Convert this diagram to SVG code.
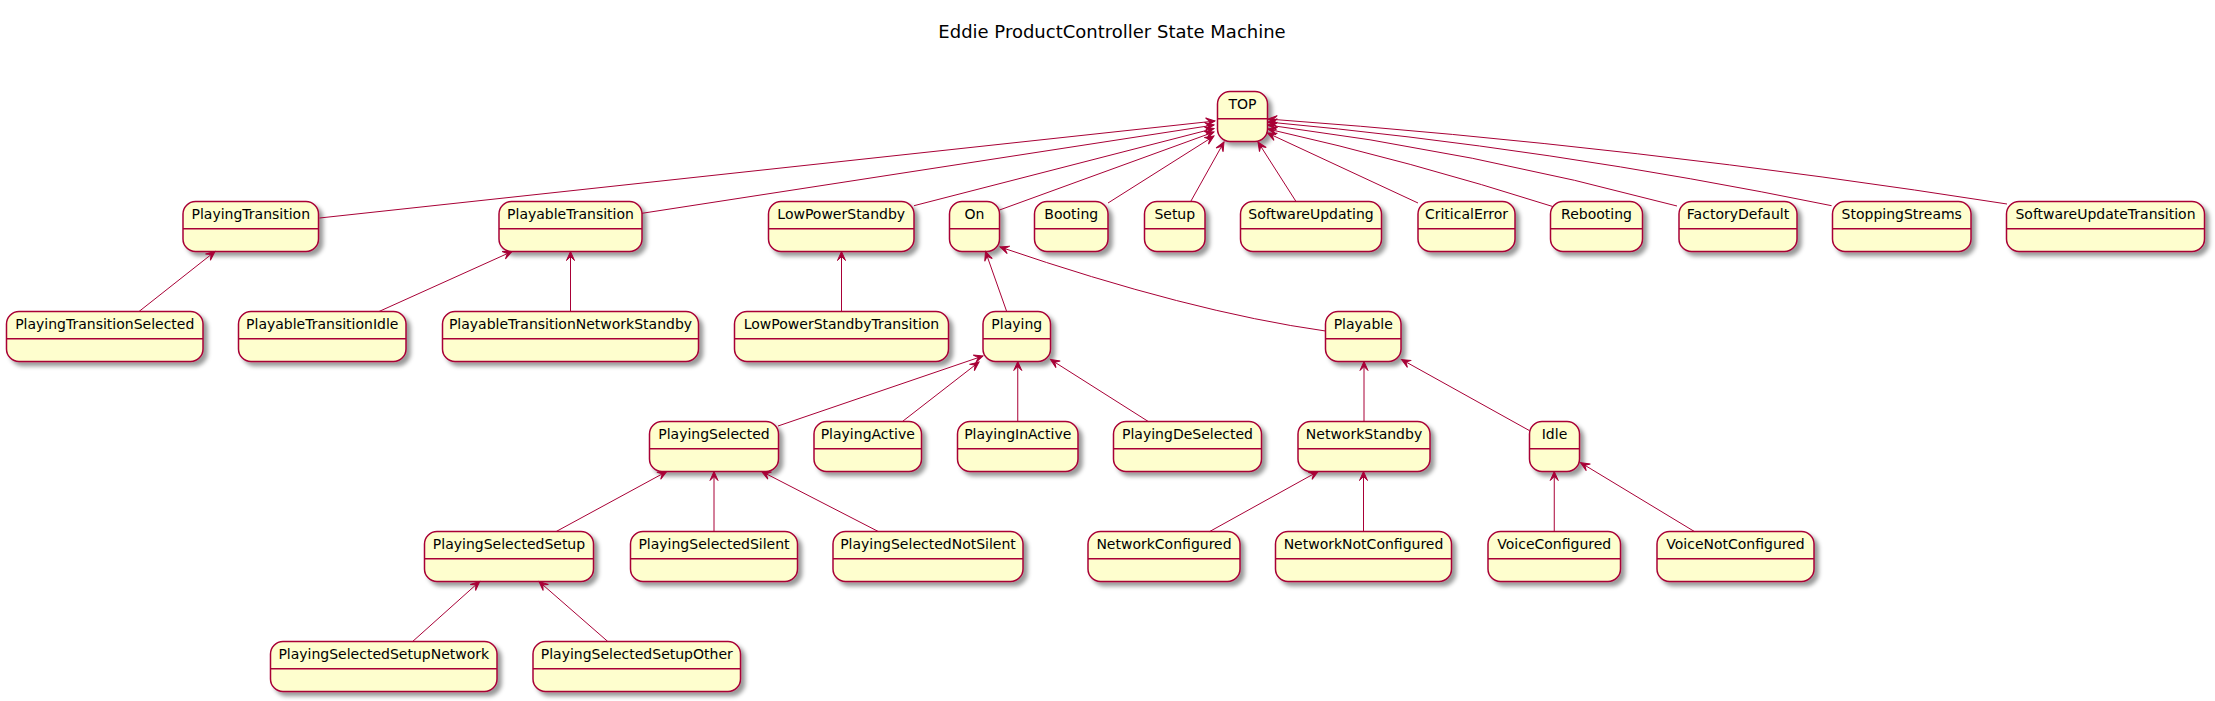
<svg xmlns="http://www.w3.org/2000/svg" width="2215" height="701" viewBox="0 0 2215 701">
<style>
.box{fill:#FEFECE;stroke:#A80036;stroke-width:1.5;filter:url(#sh)}
.div{stroke:#A80036;stroke-width:1.5}
.lbl{font-family:'DejaVu Sans','Liberation Sans',sans-serif;font-size:14px;text-anchor:middle;fill:#000000}
.ttl{font-family:'DejaVu Sans','Liberation Sans',sans-serif;font-size:18px;text-anchor:middle;fill:#000000}
.e{fill:none;stroke:#A80036;stroke-width:1;marker-end:url(#arr)}
</style>
<defs>
<filter id="sh" x="-1" y="-1" width="300%" height="300%">
<feGaussianBlur result="b1" stdDeviation="2"/>
<feColorMatrix type="matrix" in="b1" result="b2" values="0 0 0 0 0 0 0 0 0 0 0 0 0 0 0 0 0 0 .4 0"/>
<feOffset result="b3" in="b2" dx="4" dy="4"/>
<feBlend in="SourceGraphic" in2="b3" mode="normal"/>
</filter>
<marker id="arr" viewBox="-10 -5 11 10" refX="0" refY="0" markerWidth="11" markerHeight="10" markerUnits="userSpaceOnUse" orient="auto" overflow="visible">
<path d="M0,0 L-9,-4 L-5,0 L-9,4 Z" fill="#A80036" stroke="#A80036" stroke-width="1"/>
</marker>
</defs>
<rect width="2215" height="701" fill="#FFFFFF"/>
<text class="ttl" x="1112" y="38">Eddie ProductController State Machine</text>
<g id="nodes">
<g id="TOP"><rect class="box" x="1217.5" y="91.5" width="50" height="50" rx="12.5"/><line class="div" x1="1217.5" y1="118.8" x2="1267.5" y2="118.8"/><text class="lbl" x="1242.5" y="109.4">TOP</text></g>
<g id="PlayingTransition"><rect class="box" x="183" y="201.5" width="135.5" height="50" rx="12.5"/><line class="div" x1="183" y1="228.8" x2="318.5" y2="228.8"/><text class="lbl" x="250.75" y="219.4">PlayingTransition</text></g>
<g id="PlayableTransition"><rect class="box" x="499" y="201.5" width="143" height="50" rx="12.5"/><line class="div" x1="499" y1="228.8" x2="642" y2="228.8"/><text class="lbl" x="570.5" y="219.4">PlayableTransition</text></g>
<g id="LowPowerStandby"><rect class="box" x="768.5" y="201.5" width="145.5" height="50" rx="12.5"/><line class="div" x1="768.5" y1="228.8" x2="914" y2="228.8"/><text class="lbl" x="841.25" y="219.4">LowPowerStandby</text></g>
<g id="On"><rect class="box" x="949.5" y="201.5" width="50" height="50" rx="12.5"/><line class="div" x1="949.5" y1="228.8" x2="999.5" y2="228.8"/><text class="lbl" x="974.5" y="219.4">On</text></g>
<g id="Booting"><rect class="box" x="1034.5" y="201.5" width="73.5" height="50" rx="12.5"/><line class="div" x1="1034.5" y1="228.8" x2="1108" y2="228.8"/><text class="lbl" x="1071.25" y="219.4">Booting</text></g>
<g id="Setup"><rect class="box" x="1144.5" y="201.5" width="60.5" height="50" rx="12.5"/><line class="div" x1="1144.5" y1="228.8" x2="1205" y2="228.8"/><text class="lbl" x="1174.75" y="219.4">Setup</text></g>
<g id="SoftwareUpdating"><rect class="box" x="1240.5" y="201.5" width="141" height="50" rx="12.5"/><line class="div" x1="1240.5" y1="228.8" x2="1381.5" y2="228.8"/><text class="lbl" x="1311" y="219.4">SoftwareUpdating</text></g>
<g id="CriticalError"><rect class="box" x="1418" y="201.5" width="97" height="50" rx="12.5"/><line class="div" x1="1418" y1="228.8" x2="1515" y2="228.8"/><text class="lbl" x="1466.5" y="219.4">CriticalError</text></g>
<g id="Rebooting"><rect class="box" x="1550.5" y="201.5" width="92" height="50" rx="12.5"/><line class="div" x1="1550.5" y1="228.8" x2="1642.5" y2="228.8"/><text class="lbl" x="1596.5" y="219.4">Rebooting</text></g>
<g id="FactoryDefault"><rect class="box" x="1679" y="201.5" width="118" height="50" rx="12.5"/><line class="div" x1="1679" y1="228.8" x2="1797" y2="228.8"/><text class="lbl" x="1738" y="219.4">FactoryDefault</text></g>
<g id="StoppingStreams"><rect class="box" x="1832.5" y="201.5" width="138.5" height="50" rx="12.5"/><line class="div" x1="1832.5" y1="228.8" x2="1971" y2="228.8"/><text class="lbl" x="1901.75" y="219.4">StoppingStreams</text></g>
<g id="SoftwareUpdateTransition"><rect class="box" x="2006.5" y="201.5" width="198" height="50" rx="12.5"/><line class="div" x1="2006.5" y1="228.8" x2="2204.5" y2="228.8"/><text class="lbl" x="2105.5" y="219.4">SoftwareUpdateTransition</text></g>
<g id="PlayingTransitionSelected"><rect class="box" x="6.5" y="311.5" width="196.5" height="50" rx="12.5"/><line class="div" x1="6.5" y1="338.8" x2="203" y2="338.8"/><text class="lbl" x="104.75" y="329.4">PlayingTransitionSelected</text></g>
<g id="PlayableTransitionIdle"><rect class="box" x="238.5" y="311.5" width="167.5" height="50" rx="12.5"/><line class="div" x1="238.5" y1="338.8" x2="406" y2="338.8"/><text class="lbl" x="322.25" y="329.4">PlayableTransitionIdle</text></g>
<g id="PlayableTransitionNetworkStandby"><rect class="box" x="442.5" y="311.5" width="256" height="50" rx="12.5"/><line class="div" x1="442.5" y1="338.8" x2="698.5" y2="338.8"/><text class="lbl" x="570.5" y="329.4">PlayableTransitionNetworkStandby</text></g>
<g id="LowPowerStandbyTransition"><rect class="box" x="734.5" y="311.5" width="214" height="50" rx="12.5"/><line class="div" x1="734.5" y1="338.8" x2="948.5" y2="338.8"/><text class="lbl" x="841.5" y="329.4">LowPowerStandbyTransition</text></g>
<g id="Playing"><rect class="box" x="983" y="311.5" width="67.5" height="50" rx="12.5"/><line class="div" x1="983" y1="338.8" x2="1050.5" y2="338.8"/><text class="lbl" x="1016.75" y="329.4">Playing</text></g>
<g id="Playable"><rect class="box" x="1325.5" y="311.5" width="75.5" height="50" rx="12.5"/><line class="div" x1="1325.5" y1="338.8" x2="1401" y2="338.8"/><text class="lbl" x="1363.25" y="329.4">Playable</text></g>
<g id="PlayingSelected"><rect class="box" x="649.5" y="421.5" width="129" height="50" rx="12.5"/><line class="div" x1="649.5" y1="448.8" x2="778.5" y2="448.8"/><text class="lbl" x="714" y="439.4">PlayingSelected</text></g>
<g id="PlayingActive"><rect class="box" x="814" y="421.5" width="107.5" height="50" rx="12.5"/><line class="div" x1="814" y1="448.8" x2="921.5" y2="448.8"/><text class="lbl" x="867.75" y="439.4">PlayingActive</text></g>
<g id="PlayingInActive"><rect class="box" x="957.5" y="421.5" width="120.5" height="50" rx="12.5"/><line class="div" x1="957.5" y1="448.8" x2="1078" y2="448.8"/><text class="lbl" x="1017.75" y="439.4">PlayingInActive</text></g>
<g id="PlayingDeSelected"><rect class="box" x="1113.5" y="421.5" width="148" height="50" rx="12.5"/><line class="div" x1="1113.5" y1="448.8" x2="1261.5" y2="448.8"/><text class="lbl" x="1187.5" y="439.4">PlayingDeSelected</text></g>
<g id="NetworkStandby"><rect class="box" x="1298" y="421.5" width="132" height="50" rx="12.5"/><line class="div" x1="1298" y1="448.8" x2="1430" y2="448.8"/><text class="lbl" x="1364" y="439.4">NetworkStandby</text></g>
<g id="Idle"><rect class="box" x="1529.5" y="421.5" width="50" height="50" rx="12.5"/><line class="div" x1="1529.5" y1="448.8" x2="1579.5" y2="448.8"/><text class="lbl" x="1554.5" y="439.4">Idle</text></g>
<g id="PlayingSelectedSetup"><rect class="box" x="424.5" y="531.5" width="169" height="50" rx="12.5"/><line class="div" x1="424.5" y1="558.8" x2="593.5" y2="558.8"/><text class="lbl" x="509" y="549.4">PlayingSelectedSetup</text></g>
<g id="PlayingSelectedSilent"><rect class="box" x="630.5" y="531.5" width="167" height="50" rx="12.5"/><line class="div" x1="630.5" y1="558.8" x2="797.5" y2="558.8"/><text class="lbl" x="714" y="549.4">PlayingSelectedSilent</text></g>
<g id="PlayingSelectedNotSilent"><rect class="box" x="833" y="531.5" width="190" height="50" rx="12.5"/><line class="div" x1="833" y1="558.8" x2="1023" y2="558.8"/><text class="lbl" x="928" y="549.4">PlayingSelectedNotSilent</text></g>
<g id="NetworkConfigured"><rect class="box" x="1088" y="531.5" width="152" height="50" rx="12.5"/><line class="div" x1="1088" y1="558.8" x2="1240" y2="558.8"/><text class="lbl" x="1164" y="549.4">NetworkConfigured</text></g>
<g id="NetworkNotConfigured"><rect class="box" x="1275.5" y="531.5" width="176" height="50" rx="12.5"/><line class="div" x1="1275.5" y1="558.8" x2="1451.5" y2="558.8"/><text class="lbl" x="1363.5" y="549.4">NetworkNotConfigured</text></g>
<g id="VoiceConfigured"><rect class="box" x="1488" y="531.5" width="132.5" height="50" rx="12.5"/><line class="div" x1="1488" y1="558.8" x2="1620.5" y2="558.8"/><text class="lbl" x="1554.25" y="549.4">VoiceConfigured</text></g>
<g id="VoiceNotConfigured"><rect class="box" x="1657" y="531.5" width="157" height="50" rx="12.5"/><line class="div" x1="1657" y1="558.8" x2="1814" y2="558.8"/><text class="lbl" x="1735.5" y="549.4">VoiceNotConfigured</text></g>
<g id="PlayingSelectedSetupNetwork"><rect class="box" x="270.5" y="641.5" width="226.5" height="50" rx="12.5"/><line class="div" x1="270.5" y1="668.8" x2="497" y2="668.8"/><text class="lbl" x="383.75" y="659.4">PlayingSelectedSetupNetwork</text></g>
<g id="PlayingSelectedSetupOther"><rect class="box" x="533" y="641.5" width="207.5" height="50" rx="12.5"/><line class="div" x1="533" y1="668.8" x2="740.5" y2="668.8"/><text class="lbl" x="636.75" y="659.4">PlayingSelectedSetupOther</text></g>
</g>
<g id="connectors">
<path class="e" d="M319.5,218 L1215,121"/>
<path class="e" d="M642,213.3 L1214,125"/>
<path class="e" d="M914,205.7 L1214,128.5"/>
<path class="e" d="M999.5,210 L1214,132"/>
<path class="e" d="M1108,203 L1214,136"/>
<path class="e" d="M1190.7,201.5 L1224,142"/>
<path class="e" d="M1296,201.5 L1258,142"/>
<path class="e" d="M1418,203 L1267.5,133"/>
<path class="e" d="M1552.7,206.5 Q1410,161 1268,129"/>
<path class="e" d="M1677,206 Q1472,151 1268,125"/>
<path class="e" d="M1831.6,205.7 Q1550,148 1268,122"/>
<path class="e" d="M2007,204 Q1637,146 1268,119"/>
<path class="e" d="M139,311.5 L215,251.5"/>
<path class="e" d="M379,311.5 L512,251.5"/>
<path class="e" d="M570.5,311.5 L570.5,251.5"/>
<path class="e" d="M841.5,311.5 L841.5,251.5"/>
<path class="e" d="M1006.7,311.5 L985.5,251.5"/>
<path class="e" d="M1325.5,331 Q1190,312 1000,247"/>
<path class="e" d="M778,426 L983,356"/>
<path class="e" d="M902.4,421.5 L979,362"/>
<path class="e" d="M1017.75,421.5 L1017.75,361.5"/>
<path class="e" d="M1148.3,421.5 L1050.5,359.5"/>
<path class="e" d="M1364,421.5 L1364,361.5"/>
<path class="e" d="M1529.6,430.7 L1401.5,359.5"/>
<path class="e" d="M556.2,531.5 L666.7,471.5"/>
<path class="e" d="M714,531.5 L714,471.5"/>
<path class="e" d="M878.3,531.5 L761.7,471.5"/>
<path class="e" d="M1209.7,531.5 L1318,471.5"/>
<path class="e" d="M1363.5,531.5 L1363.5,471.5"/>
<path class="e" d="M1554.25,531.5 L1554.25,471.5"/>
<path class="e" d="M1694.4,531.5 L1580.6,462.7"/>
<path class="e" d="M412.6,641.5 L479.6,581.5"/>
<path class="e" d="M607.8,641.5 L539,581.5"/>
</g>
</svg>
